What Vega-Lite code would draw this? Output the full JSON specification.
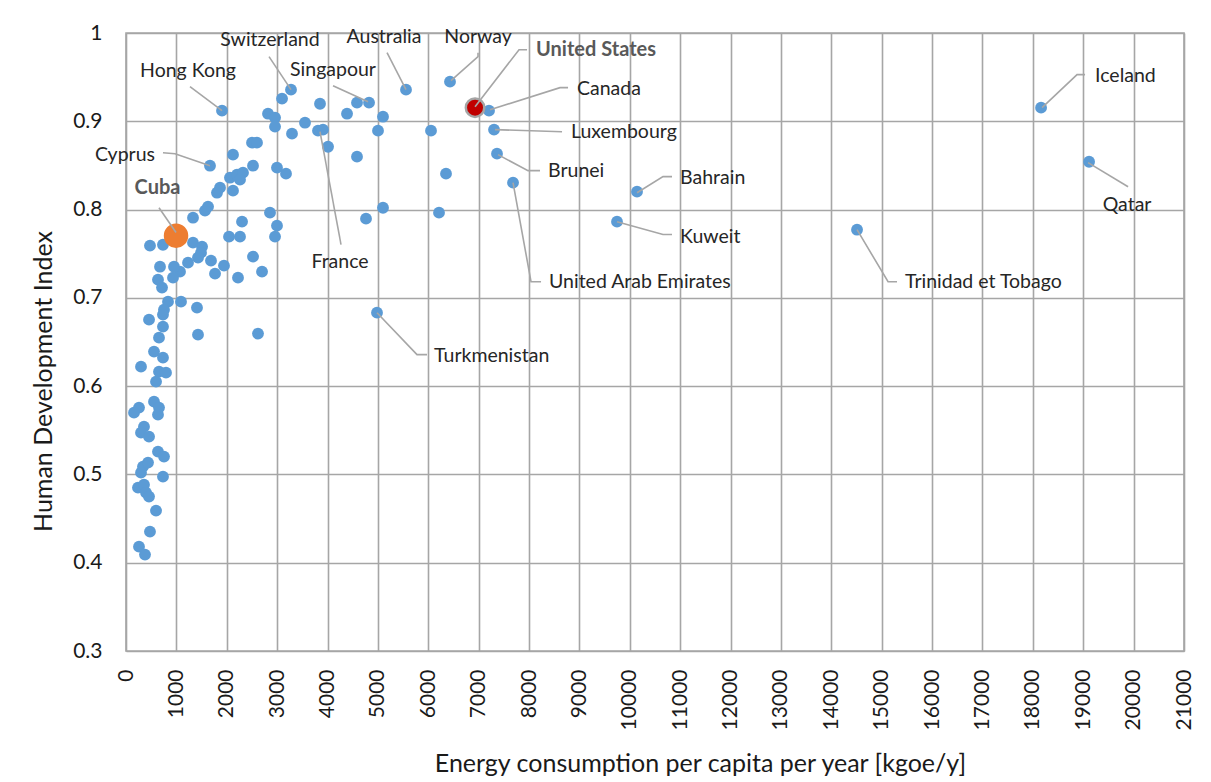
{
  "$schema": "https://vega.github.io/schema/vega-lite/v6.json",
  "width": 1058,
  "height": 618,
  "autosize": {"type": "none"},
  "padding": {"left": 126, "top": 33, "right": 27, "bottom": 131},
  "background": "white",
  "config": {
    "font": "Lato",
    "view": {"stroke": "#A6A6A6", "strokeWidth": 1.6},
    "axis": {"gridColor": "#A6A6A6", "gridWidth": 1.6, "gridOpacity": 1, "domain": false, "ticks": false, "labelFont": "Lato", "titleFont": "Lato", "labelColor": "#1a1a1a", "titleColor": "#1a1a1a", "titleFontWeight": "normal"}
  },
  "datasets": {
    "pts": [
      {"x": 1906, "y": 0.912, "type": "other"},
      {"x": 1667, "y": 0.8497, "type": "other"},
      {"x": 3097, "y": 0.9256, "type": "other"},
      {"x": 3275, "y": 0.9358, "type": "other"},
      {"x": 2819, "y": 0.9086, "type": "other"},
      {"x": 2958, "y": 0.9041, "type": "other"},
      {"x": 2958, "y": 0.8939, "type": "other"},
      {"x": 3295, "y": 0.886, "type": "other"},
      {"x": 3553, "y": 0.8984, "type": "other"},
      {"x": 3851, "y": 0.9199, "type": "other"},
      {"x": 3811, "y": 0.8894, "type": "other"},
      {"x": 3910, "y": 0.8905, "type": "other"},
      {"x": 4010, "y": 0.8712, "type": "other"},
      {"x": 4387, "y": 0.9086, "type": "other"},
      {"x": 4585, "y": 0.9211, "type": "other"},
      {"x": 4824, "y": 0.9211, "type": "other"},
      {"x": 5101, "y": 0.9052, "type": "other"},
      {"x": 5002, "y": 0.8894, "type": "other"},
      {"x": 4585, "y": 0.8599, "type": "other"},
      {"x": 5558, "y": 0.9358, "type": "other"},
      {"x": 6431, "y": 0.9449, "type": "other"},
      {"x": 7205, "y": 0.912, "type": "other"},
      {"x": 6054, "y": 0.8894, "type": "other"},
      {"x": 7305, "y": 0.8905, "type": "other"},
      {"x": 7364, "y": 0.8633, "type": "other"},
      {"x": 6352, "y": 0.8407, "type": "other"},
      {"x": 7682, "y": 0.8305, "type": "other"},
      {"x": 2124, "y": 0.8622, "type": "other"},
      {"x": 2501, "y": 0.8758, "type": "other"},
      {"x": 2600, "y": 0.8758, "type": "other"},
      {"x": 2521, "y": 0.8497, "type": "other"},
      {"x": 2997, "y": 0.8475, "type": "other"},
      {"x": 3176, "y": 0.8407, "type": "other"},
      {"x": 2064, "y": 0.8361, "type": "other"},
      {"x": 2203, "y": 0.8395, "type": "other"},
      {"x": 2322, "y": 0.8418, "type": "other"},
      {"x": 2263, "y": 0.8339, "type": "other"},
      {"x": 2124, "y": 0.8214, "type": "other"},
      {"x": 1866, "y": 0.8248, "type": "other"},
      {"x": 1806, "y": 0.8191, "type": "other"},
      {"x": 10143, "y": 0.8203, "type": "other"},
      {"x": 18163, "y": 0.9154, "type": "other"},
      {"x": 19116, "y": 0.8542, "type": "other"},
      {"x": 5101, "y": 0.8021, "type": "other"},
      {"x": 4764, "y": 0.7897, "type": "other"},
      {"x": 6213, "y": 0.7965, "type": "other"},
      {"x": 9746, "y": 0.7863, "type": "other"},
      {"x": 14510, "y": 0.7772, "type": "other"},
      {"x": 1628, "y": 0.8033, "type": "other"},
      {"x": 1568, "y": 0.7988, "type": "other"},
      {"x": 1330, "y": 0.7908, "type": "other"},
      {"x": 2303, "y": 0.7863, "type": "other"},
      {"x": 2858, "y": 0.7965, "type": "other"},
      {"x": 2997, "y": 0.7818, "type": "other"},
      {"x": 2958, "y": 0.7693, "type": "other"},
      {"x": 2045, "y": 0.7693, "type": "other"},
      {"x": 2263, "y": 0.7693, "type": "other"},
      {"x": 476, "y": 0.7591, "type": "other"},
      {"x": 734, "y": 0.7602, "type": "other"},
      {"x": 1330, "y": 0.7625, "type": "other"},
      {"x": 1509, "y": 0.758, "type": "other"},
      {"x": 2521, "y": 0.7467, "type": "other"},
      {"x": 1489, "y": 0.7512, "type": "other"},
      {"x": 1429, "y": 0.7455, "type": "other"},
      {"x": 1687, "y": 0.7421, "type": "other"},
      {"x": 1945, "y": 0.7365, "type": "other"},
      {"x": 1767, "y": 0.7274, "type": "other"},
      {"x": 2223, "y": 0.7229, "type": "other"},
      {"x": 2700, "y": 0.7297, "type": "other"},
      {"x": 1231, "y": 0.7399, "type": "other"},
      {"x": 1072, "y": 0.7297, "type": "other"},
      {"x": 953, "y": 0.7353, "type": "other"},
      {"x": 933, "y": 0.7229, "type": "other"},
      {"x": 675, "y": 0.7353, "type": "other"},
      {"x": 635, "y": 0.7206, "type": "other"},
      {"x": 715, "y": 0.7116, "type": "other"},
      {"x": 834, "y": 0.6957, "type": "other"},
      {"x": 1092, "y": 0.6957, "type": "other"},
      {"x": 1409, "y": 0.6889, "type": "other"},
      {"x": 754, "y": 0.6866, "type": "other"},
      {"x": 457, "y": 0.6753, "type": "other"},
      {"x": 734, "y": 0.681, "type": "other"},
      {"x": 734, "y": 0.6674, "type": "other"},
      {"x": 655, "y": 0.6549, "type": "other"},
      {"x": 1429, "y": 0.6583, "type": "other"},
      {"x": 2620, "y": 0.6595, "type": "other"},
      {"x": 4982, "y": 0.6832, "type": "other"},
      {"x": 556, "y": 0.6391, "type": "other"},
      {"x": 734, "y": 0.6323, "type": "other"},
      {"x": 298, "y": 0.6221, "type": "other"},
      {"x": 655, "y": 0.6164, "type": "other"},
      {"x": 794, "y": 0.6153, "type": "other"},
      {"x": 596, "y": 0.6051, "type": "other"},
      {"x": 556, "y": 0.5824, "type": "other"},
      {"x": 655, "y": 0.5757, "type": "other"},
      {"x": 258, "y": 0.5757, "type": "other"},
      {"x": 159, "y": 0.57, "type": "other"},
      {"x": 635, "y": 0.5677, "type": "other"},
      {"x": 357, "y": 0.5541, "type": "other"},
      {"x": 298, "y": 0.5473, "type": "other"},
      {"x": 457, "y": 0.5428, "type": "other"},
      {"x": 635, "y": 0.5258, "type": "other"},
      {"x": 754, "y": 0.5202, "type": "other"},
      {"x": 337, "y": 0.5088, "type": "other"},
      {"x": 437, "y": 0.5134, "type": "other"},
      {"x": 298, "y": 0.502, "type": "other"},
      {"x": 734, "y": 0.4975, "type": "other"},
      {"x": 238, "y": 0.485, "type": "other"},
      {"x": 357, "y": 0.4884, "type": "other"},
      {"x": 397, "y": 0.4794, "type": "other"},
      {"x": 457, "y": 0.4749, "type": "other"},
      {"x": 596, "y": 0.459, "type": "other"},
      {"x": 476, "y": 0.4352, "type": "other"},
      {"x": 258, "y": 0.4182, "type": "other"},
      {"x": 377, "y": 0.4092, "type": "other"},
      {"x": 993, "y": 0.7704, "type": "Cuba"},
      {"x": 6928, "y": 0.9154, "type": "United States"}
    ],
    "leaders": [
      {"country": "Hong Kong", "o": 1, "x": 1906, "y": 0.912},
      {"country": "Hong Kong", "o": 2, "x": 1270, "y": 0.9392},
      {"country": "Cyprus", "o": 1, "x": 1667, "y": 0.8497},
      {"country": "Cyprus", "o": 2, "x": 973, "y": 0.8633},
      {"country": "Cyprus", "o": 3, "x": 734, "y": 0.8644},
      {"country": "Cuba", "o": 1, "x": 993, "y": 0.7741},
      {"country": "Cuba", "o": 2, "x": 655, "y": 0.8021},
      {"country": "Switzerland", "o": 1, "x": 3275, "y": 0.9358},
      {"country": "Switzerland", "o": 2, "x": 2839, "y": 0.9732},
      {"country": "Singapour", "o": 1, "x": 4804, "y": 0.9222},
      {"country": "Singapour", "o": 2, "x": 4109, "y": 0.9403},
      {"country": "Australia", "o": 1, "x": 5558, "y": 0.9358},
      {"country": "Australia", "o": 2, "x": 5181, "y": 0.9777},
      {"country": "Norway", "o": 1, "x": 6451, "y": 0.946},
      {"country": "Norway", "o": 2, "x": 6987, "y": 0.9732},
      {"country": "Norway", "o": 3, "x": 6987, "y": 0.9777},
      {"country": "United States", "o": 1, "x": 6928, "y": 0.9165},
      {"country": "United States", "o": 2, "x": 7801, "y": 0.9811},
      {"country": "United States", "o": 3, "x": 7960, "y": 0.9811},
      {"country": "Canada", "o": 1, "x": 7225, "y": 0.9131},
      {"country": "Canada", "o": 2, "x": 8615, "y": 0.9381},
      {"country": "Canada", "o": 3, "x": 8774, "y": 0.9381},
      {"country": "Luxembourg", "o": 1, "x": 7325, "y": 0.8905},
      {"country": "Luxembourg", "o": 2, "x": 8655, "y": 0.8882},
      {"country": "Brunei", "o": 1, "x": 7384, "y": 0.8622},
      {"country": "Brunei", "o": 2, "x": 7980, "y": 0.8441},
      {"country": "Brunei", "o": 3, "x": 8218, "y": 0.8441},
      {"country": "United Arab Emirates", "o": 1, "x": 7682, "y": 0.8305},
      {"country": "United Arab Emirates", "o": 2, "x": 8039, "y": 0.7183},
      {"country": "United Arab Emirates", "o": 3, "x": 8238, "y": 0.7183},
      {"country": "Bahrain", "o": 1, "x": 10143, "y": 0.8191},
      {"country": "Bahrain", "o": 2, "x": 10659, "y": 0.8373},
      {"country": "Bahrain", "o": 3, "x": 10838, "y": 0.8373},
      {"country": "Kuweit", "o": 1, "x": 9746, "y": 0.7863},
      {"country": "Kuweit", "o": 2, "x": 10659, "y": 0.7718},
      {"country": "Kuweit", "o": 3, "x": 10838, "y": 0.7718},
      {"country": "Trinidad et Tobago", "o": 1, "x": 14510, "y": 0.7772},
      {"country": "Trinidad et Tobago", "o": 2, "x": 15126, "y": 0.7183},
      {"country": "Trinidad et Tobago", "o": 3, "x": 15304, "y": 0.7183},
      {"country": "Iceland", "o": 1, "x": 18183, "y": 0.9154},
      {"country": "Iceland", "o": 2, "x": 18877, "y": 0.9528},
      {"country": "Iceland", "o": 3, "x": 19036, "y": 0.9528},
      {"country": "Qatar", "o": 1, "x": 19096, "y": 0.8532},
      {"country": "Qatar", "o": 2, "x": 19890, "y": 0.8259},
      {"country": "Turkmenistan", "o": 1, "x": 4982, "y": 0.6832},
      {"country": "Turkmenistan", "o": 2, "x": 5776, "y": 0.6357},
      {"country": "Turkmenistan", "o": 3, "x": 5975, "y": 0.6357},
      {"country": "France", "o": 1, "x": 3851, "y": 0.8882},
      {"country": "France", "o": 2, "x": 4268, "y": 0.7602}
    ],
    "labels": [
      {"country": "Hong Kong", "x": 1231, "y": 0.9573, "align": "center", "bold": false},
      {"country": "Cyprus", "x": 576, "y": 0.8622, "align": "right", "bold": false},
      {"country": "Cuba", "x": 625, "y": 0.8248, "align": "center", "bold": true},
      {"country": "Switzerland", "x": 2858, "y": 0.9924, "align": "center", "bold": false},
      {"country": "Singapour", "x": 4109, "y": 0.9584, "align": "center", "bold": false},
      {"country": "Australia", "x": 5121, "y": 0.9958, "align": "center", "bold": false},
      {"country": "Norway", "x": 6987, "y": 0.9958, "align": "center", "bold": false},
      {"country": "United States", "x": 8139, "y": 0.9811, "align": "left", "bold": true},
      {"country": "Canada", "x": 8952, "y": 0.9369, "align": "left", "bold": false},
      {"country": "Luxembourg", "x": 8833, "y": 0.8882, "align": "left", "bold": false},
      {"country": "Brunei", "x": 8377, "y": 0.8441, "align": "left", "bold": false},
      {"country": "United Arab Emirates", "x": 8397, "y": 0.7183, "align": "left", "bold": false},
      {"country": "Bahrain", "x": 10997, "y": 0.8361, "align": "left", "bold": false},
      {"country": "Kuweit", "x": 10997, "y": 0.7693, "align": "left", "bold": false},
      {"country": "Trinidad et Tobago", "x": 15463, "y": 0.7183, "align": "left", "bold": false},
      {"country": "Iceland", "x": 19235, "y": 0.9516, "align": "left", "bold": false},
      {"country": "Qatar", "x": 19870, "y": 0.8055, "align": "center", "bold": false},
      {"country": "Turkmenistan", "x": 6114, "y": 0.6345, "align": "left", "bold": false},
      {"country": "France", "x": 4248, "y": 0.741, "align": "center", "bold": false}
    ]
  },
  "encoding": {
    "x": {
      "field": "x", "type": "quantitative",
      "scale": {"domain": [0, 21000], "nice": false, "zero": false},
      "axis": {
        "values": [0,1000,2000,3000,4000,5000,6000,7000,8000,9000,10000,11000,12000,13000,14000,15000,16000,17000,18000,19000,20000,21000],
        "format": "d", "labelAngle": -90, "labelFontSize": 21, "labelPadding": 18,
        "title": "Energy consumption per capita per year [kgoe/y]", "titleFontSize": 25,
        "titleX": 574, "titleY": 112, "titleBaseline": "middle", "titleAnchor": "middle"
      }
    },
    "y": {
      "field": "y", "type": "quantitative",
      "scale": {"domain": [0.3, 1], "nice": false, "zero": false},
      "axis": {
        "values": [0.3,0.4,0.5,0.6,0.7,0.8,0.9,1],
        "format": ".1~f", "labelFontSize": 21, "labelPadding": 24,
        "title": "Human Development Index", "titleFontSize": 25,
        "titleX": -83, "titleY": 348, "titleBaseline": "middle", "titleAnchor": "middle"
      }
    }
  },
  "layer": [
    {
      "data": {"name": "pts"},
      "transform": [{"filter": "datum.type === 'other'"}],
      "mark": {"type": "circle", "size": 140, "color": "#5B9BD5", "opacity": 1}
    },
    {
      "data": {"name": "pts"},
      "transform": [{"filter": "datum.type === 'Cuba'"}],
      "mark": {"type": "circle", "size": 600, "color": "#ED7D31", "opacity": 1}
    },
    {
      "data": {"name": "pts"},
      "transform": [{"filter": "datum.type === 'United States'"}],
      "mark": {"type": "circle", "size": 340, "fill": "#C00000", "stroke": "#A5A5A5", "strokeWidth": 2.5, "opacity": 1}
    },
    {
      "data": {"name": "leaders"},
      "mark": {"type": "line", "color": "#A6A6A6", "strokeWidth": 1.6},
      "encoding": {
        "detail": {"field": "country"},
        "order": {"field": "o", "type": "quantitative"}
      }
    },
    {
      "data": {"name": "labels"},
      "transform": [{"filter": "datum.align === 'left' && !datum.bold"}],
      "mark": {"type": "text", "align": "left", "baseline": "middle", "fontSize": 19.5, "color": "#262626"},
      "encoding": {"text": {"field": "country"}}
    },
    {
      "data": {"name": "labels"},
      "transform": [{"filter": "datum.align === 'center' && !datum.bold"}],
      "mark": {"type": "text", "align": "center", "baseline": "middle", "fontSize": 19.5, "color": "#262626"},
      "encoding": {"text": {"field": "country"}}
    },
    {
      "data": {"name": "labels"},
      "transform": [{"filter": "datum.align === 'right'"}],
      "mark": {"type": "text", "align": "right", "baseline": "middle", "fontSize": 19.5, "color": "#262626"},
      "encoding": {"text": {"field": "country"}}
    },
    {
      "data": {"name": "labels"},
      "transform": [{"filter": "datum.bold && datum.align === 'center'"}],
      "mark": {"type": "text", "align": "center", "baseline": "middle", "fontSize": 20, "fontWeight": "bold", "color": "#595959"},
      "encoding": {"text": {"field": "country"}}
    },
    {
      "data": {"name": "labels"},
      "transform": [{"filter": "datum.bold && datum.align === 'left'"}],
      "mark": {"type": "text", "align": "left", "baseline": "middle", "fontSize": 20, "fontWeight": "bold", "color": "#595959"},
      "encoding": {"text": {"field": "country"}}
    }
  ]
}
